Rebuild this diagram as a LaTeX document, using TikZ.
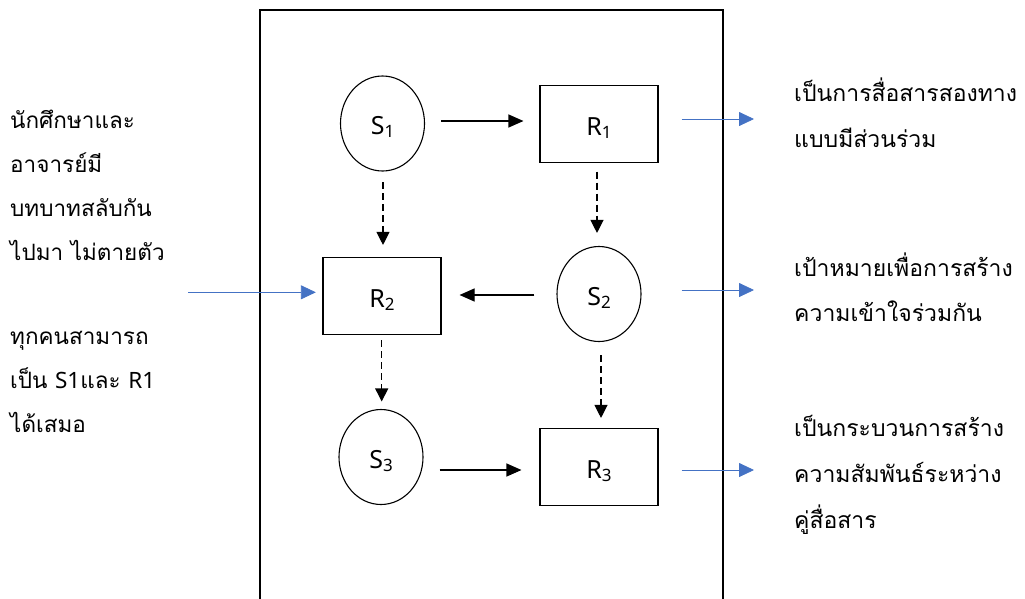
\documentclass[tikz,border=0pt]{standalone}
\usepackage{fontspec}
\setmainfont{Loma}[Script=Thai]
\newfontfamily\latinf{Noto Sans}
\usetikzlibrary{arrows.meta,shapes.geometric}
\definecolor{officeblue}{RGB}{68,114,196}
\newcommand{\sublbl}[2]{{\latinf\fontsize{25}{27}\selectfont #1\raisebox{-3pt}{\fontsize{17}{17}\selectfont #2}}}
\tikzset{
  ovalnode/.style={ellipse,draw,line width=1.1pt,minimum width=84pt,minimum height=95pt,inner sep=0pt,text height=22pt,text depth=0pt},
  boxnode/.style={rectangle,draw,line width=1.1pt,minimum width=118pt,minimum height=77pt,inner sep=0pt,text height=22pt,text depth=0pt},
  solidarrow/.style={line width=1.1pt,-{Triangle[length=15pt,width=13pt]}},
  dasharrow/.style={line width=1.1pt,dash pattern=on 7pt off 4pt,-{Triangle[length=13pt,width=13pt]}},
  bluearrow/.style={officeblue,line width=0.8pt,-{Triangle[length=15pt,width=14pt]}},
  sidetext/.style={anchor=base west,align=left,inner sep=0pt,font=\fontsize{22.5}{44}\selectfont},
  righttext/.style={anchor=base west,align=left,inner sep=0pt,font=\fontsize{23}{45.7}\selectfont}
}
\begin{document}
\begin{tikzpicture}[x=1pt,y=-1pt]
\useasboundingbox (0,0) rectangle (1025,598);
% frame
\coordinate (fbl) at (260,600);
\coordinate (ftl) at (260,10);
\coordinate (ftr) at (723,10);
\coordinate (fbr) at (723,600);
\draw[line width=1.5pt] (fbl) -- (ftl) -- (ftr) -- (fbr);
% nodes
\node[ovalnode] (S1) at (382.5,123.5) {\sublbl{S}{1}};
\node[boxnode] (R1) at (599,124) {\sublbl{R}{1}};
\node[boxnode] (R2) at (382,296) {\sublbl{R}{2}};
\node[ovalnode] (S2) at (599,294) {\sublbl{S}{2}};
\node[ovalnode] (S3) at (381,457) {\sublbl{S}{3}};
\node[boxnode] (R3) at (599,467) {\sublbl{R}{3}};
% solid arrows
\draw[solidarrow,shorten <=16pt,shorten >=16pt] ([yshift=2.5pt]S1.east) -- ([yshift=2.5pt]S1.east -| R1.west);
\draw[solidarrow,shorten <=22pt,shorten >=18pt] ([yshift=-1pt]S2.west) -- ([yshift=-1pt]S2.west -| R2.east);
\draw[solidarrow,shorten <=16pt,shorten >=18pt] ([yshift=-13pt]S3.east) -- ([yshift=-13pt]S3.east -| R3.west);
% dashed arrows
\draw[dasharrow,shorten <=10.5pt,shorten >=12pt] ([xshift=0.5pt]S1.south) -- ([xshift=0.5pt]S1.south |- R2.north);
\draw[dasharrow,shorten <=8.5pt,shorten >=13pt] ([xshift=-2pt]R1.south) -- ([xshift=-2pt]R1.south |- S2.north);
\draw[dasharrow,shorten <=5pt,shorten >=7.5pt] ([xshift=-0.3pt]R2.south) -- ([xshift=-0.3pt]R2.south |- S3.north);
\draw[dasharrow,shorten <=13pt,shorten >=10pt] ([xshift=2pt]S2.south) -- ([xshift=2pt]S2.south |- R3.north);
% side texts (base anchor = last line)
\node[sidetext] (lt1) at (10,432) {นักศึกษาและ\\อาจารย์มี\\บทบาทสลับกัน\\ไปมา ไม่ตายตัว\\[40pt]ทุกคนสามารถ\\เป็น {\latinf S1}และ {\latinf R1}\\ได้เสมอ};
\node[righttext] (rt1) at (794,147) {เป็นการสื่อสารสองทาง\\แบบมีส่วนร่วม};
\node[righttext] (rt2) at (794,321.7) {เป้าหมายเพื่อการสร้าง\\ความเข้าใจร่วมกัน};
\node[righttext] (rt3) at (794,528.3) {เป็นกระบวนการสร้าง\\ความสัมพันธ์ระหว่าง\\คู่สื่อสาร};
% blue arrows
\coordinate (la) at (188,292.3);
\draw[bluearrow,shorten >=6.6pt] (la) -- (la -| R2.west);
\coordinate (ra1) at (681.7,119);
\coordinate (rb1) at (754,119);
\coordinate (ra2) at (681.7,290);
\coordinate (rb2) at (754,290);
\coordinate (ra3) at (681.7,470);
\coordinate (rb3) at (754,470);
\draw[bluearrow] (ra1) -- (rb1);
\draw[bluearrow] (ra2) -- (rb2);
\draw[bluearrow] (ra3) -- (rb3);
\end{tikzpicture}
\end{document}
